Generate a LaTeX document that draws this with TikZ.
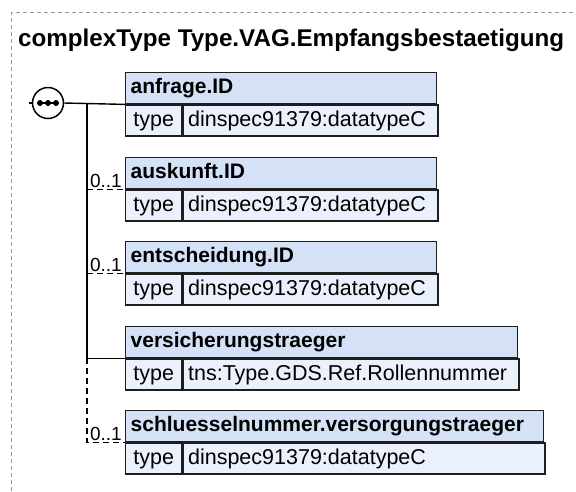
\documentclass[tikz,border=0pt]{standalone}
\usepackage{fontspec}
\setmainfont{Liberation Sans}
\definecolor{hdrfill}{RGB}{212,225,247}
\definecolor{rowfill}{RGB}{234,240,252}
\definecolor{framegray}{RGB}{150,150,150}
\definecolor{boxborder}{RGB}{30,30,30}
\begin{document}
\begin{tikzpicture}[x=1pt,y=-1pt,
  boxline/.style={draw=boxborder, line width=1.4pt},
  hdr/.style={boxline, fill=hdrfill, anchor=north west, minimum height=31pt,
    inner ysep=0pt, inner xsep=5pt, text height=15.5pt, text depth=4.5pt, align=left,
    font=\fontsize{21}{24}\selectfont\bfseries},
  tcell/.style={boxline, fill=rowfill, anchor=north west, minimum height=31pt,
    minimum width=56pt, inner ysep=0pt, inner xsep=3pt, text height=15.5pt, text depth=4.5pt,
    font=\fontsize{21.5}{25}\selectfont},
  vcell/.style={boxline, fill=rowfill, anchor=north west, minimum height=31pt,
    inner ysep=0pt, inner xsep=5pt, text height=15.5pt, text depth=4.5pt, align=left,
    font=\fontsize{21.5}{25}\selectfont},
  conn/.style={draw=black, line width=1.4pt},
  optconn/.style={conn, dash pattern=on 6pt off 4pt},
  lbl/.style={anchor=base east, inner sep=0pt, font=\fontsize{19}{21}\selectfont}
]
\useasboundingbox (0,0) rectangle (576,491);
% outer dashed frame
\draw[framegray, line width=1pt, dash pattern=on 4pt off 3pt] (11.5,491) -- (11.5,12.5) -- (576,12.5);
\node[anchor=base west, inner sep=0pt, font=\fontsize{24.2}{28}\selectfont\bfseries] (title) at (18,46) {complexType Type.VAG.Empfangsbestaetigung};

% boxes
\node[hdr, text width=301pt] (h1) at (125,72) {anfrage.ID};
\node[tcell] (t1) at (h1.south west) {type};
\node[vcell, text width=245pt] (v1) at (t1.north east) {dinspec91379:datatypeC};

\node[hdr, text width=301pt] (h2) at (125,157) {auskunft.ID};
\node[tcell] (t2) at (h2.south west) {type};
\node[vcell, text width=245pt] (v2) at (t2.north east) {dinspec91379:datatypeC};

\node[hdr, text width=301pt] (h3) at (125,241) {entscheidung.ID};
\node[tcell] (t3) at (h3.south west) {type};
\node[vcell, text width=245pt] (v3) at (t3.north east) {dinspec91379:datatypeC};

\node[hdr, text width=382pt] (h4) at (125,326) {versicherungstraeger};
\node[tcell] (t4) at (h4.south west) {type};
\node[vcell, text width=326pt] (v4) at (t4.north east) {tns:Type.GDS.Ref.Rollennummer};

\node[hdr, text width=408pt] (h5) at (125,410) {schluesselnummer.versorgungstraeger};
\node[tcell] (t5) at (h5.south west) {type};
\node[vcell, text width=352pt] (v5) at (t5.north east) {dinspec91379:datatypeC};

% sequence compositor
\coordinate (s0) at (29,103);
\coordinate (j) at (87,103);
\node[circle, draw=black, line width=1.5pt, fill=white, minimum size=31pt, inner sep=0pt] (seq) at (48,103) {};
\draw[conn] (s0) -- (seq.west);
\draw[conn] (seq.east) -- (h1.south west);
\draw[line width=1.5pt] ([xshift=-8pt]seq.center) -- ([xshift=8pt]seq.center);
\foreach \dx in {-8,0,8} \fill ([xshift=\dx pt]seq.center) circle (3pt);

\coordinate (j2) at (j |- h2.south west);
\coordinate (j3) at (j |- h3.south west);
\coordinate (j4) at (j |- h4.south west);
\coordinate (j5) at (j |- h5.south west);

\draw[conn] (j) -- (j4) -- (h4.south west);
\draw[optconn] (j2) -- (h2.south west);
\draw[optconn] (j3) -- (h3.south west);
\draw[optconn] (j4) -- (j5) -- (h5.south west);

\node[lbl] (m2) at ([xshift=-3pt,yshift=1.5pt]h2.south west) {0..1};
\node[lbl] (m3) at ([xshift=-3pt,yshift=1.5pt]h3.south west) {0..1};
\node[lbl] (m5) at ([xshift=-3pt,yshift=1.5pt]h5.south west) {0..1};
\end{tikzpicture}
\end{document}
